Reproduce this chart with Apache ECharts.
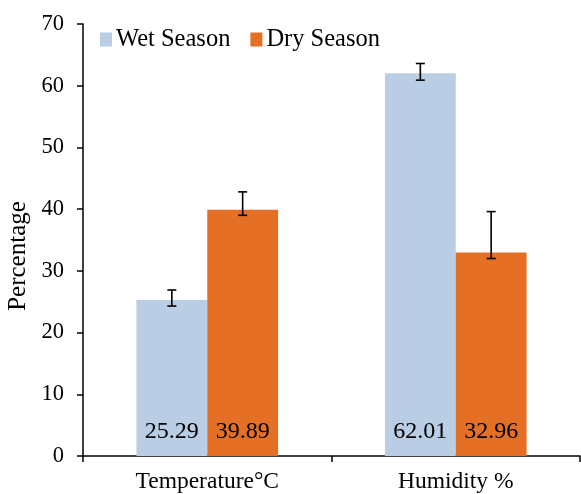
<!DOCTYPE html>
<html><head><meta charset="utf-8">
<script src="https://cdn.jsdelivr.net/npm/echarts@6/dist/echarts.min.js"></script>
<style>html,body{margin:0;padding:0;background:#fff}#c{width:581px;height:494px}</style>
</head><body><div id="c"></div>
<script>
const categories = ['Temperature°C', 'Humidity %'];
const wetValues = [25.29, 62.01];
const dryValues = [39.89, 32.96];
const wetErrLow = [24.3, 60.9];
const wetErrHigh = [26.9, 63.6];
const dryErrLow = [39.0, 32.0];
const dryErrHigh = [42.8, 39.6];
const yTicks = [0, 10, 20, 30, 40, 50, 60, 70];

const FONT = '"Liberation Serif", "Times New Roman", serif';
const GAP = 0.43;

function errSeries(name, low, high, side) {
  return {
    type: 'custom', name: name + ' err', z: 10,
    data: categories.map((c, i) => [i, low[i], high[i]]),
    renderItem: function (params, api) {
      const i = api.value(0);
      const band = api.size([1, 0])[0];
      const barW = band * (1 - GAP) / 2;
      const lo = api.coord([i, api.value(1)]);
      const hi = api.coord([i, api.value(2)]);
      const x = lo[0] + side * barW / 2;
      const cap = 4.5;
      const st = { stroke: '#000', lineWidth: 1.6 };
      return { type: 'group', children: [
        { type: 'line', shape: { x1: x, y1: lo[1], x2: x, y2: hi[1] }, style: st },
        { type: 'line', shape: { x1: x - cap, y1: lo[1], x2: x + cap, y2: lo[1] }, style: st },
        { type: 'line', shape: { x1: x - cap, y1: hi[1], x2: x + cap, y2: hi[1] }, style: st }
      ]};
    },
    silent: true, tooltip: { show: false }
  };
}

const chart = echarts.init(document.getElementById('c'));
chart.setOption({
  animation: false,
  textStyle: { fontFamily: FONT },
  grid: { left: 83, right: 1, top: 24, bottom: 38, containLabel: false, outerBoundsMode: 'none' },
  legend: {
    left: 95, top: 22, itemWidth: 12, itemHeight: 14, itemGap: 20,
    icon: 'rect',
    data: ['Wet Season', 'Dry Season'],
    textStyle: { fontFamily: FONT, fontSize: 24.5, color: '#000', padding: [0, 0, 0, -1] }
  },
  xAxis: {
    type: 'category', data: categories,
    axisLine: { lineStyle: { color: '#000', width: 1.5 } },
    axisTick: { show: true, length: 6, alignWithLabel: false, lineStyle: { color: '#000', width: 1.5 } },
    axisLabel: { fontFamily: FONT, fontSize: 23.5, color: '#000', margin: 14 }
  },
  yAxis: {
    type: 'value', min: 0, max: 70, interval: 10,
    name: 'Percentage', nameLocation: 'middle', nameGap: 51, nameRotate: 90,
    nameTextStyle: { fontFamily: FONT, fontSize: 25, color: '#000', padding: [0, 32, 0, 0] },
    axisLine: { show: true, lineStyle: { color: '#000', width: 1.5 } },
    axisTick: { show: true, length: 6, lineStyle: { color: '#000', width: 1.5 } },
    splitLine: { show: false },
    axisLabel: { fontFamily: FONT, fontSize: 22.5, color: '#000', margin: 19,
      formatter: v => yTicks.includes(v) ? String(v) : '' }
  },
  series: [
    { name: 'Wet Season', type: 'bar', data: wetValues, barGap: '0%', barCategoryGap: (GAP * 100) + '%',
      itemStyle: { color: '#B9CDE5' },
      label: { show: true, position: 'insideBottom', distance: 12, fontFamily: FONT, fontSize: 24, color: '#000' } },
    { name: 'Dry Season', type: 'bar', data: dryValues, barGap: '0%', barCategoryGap: (GAP * 100) + '%',
      itemStyle: { color: '#E46F25' },
      label: { show: true, position: 'insideBottom', distance: 12, fontFamily: FONT, fontSize: 24, color: '#000' } },
    errSeries('Wet Season', wetErrLow, wetErrHigh, -1),
    errSeries('Dry Season', dryErrLow, dryErrHigh, 1)
  ]
});
</script></body></html>
